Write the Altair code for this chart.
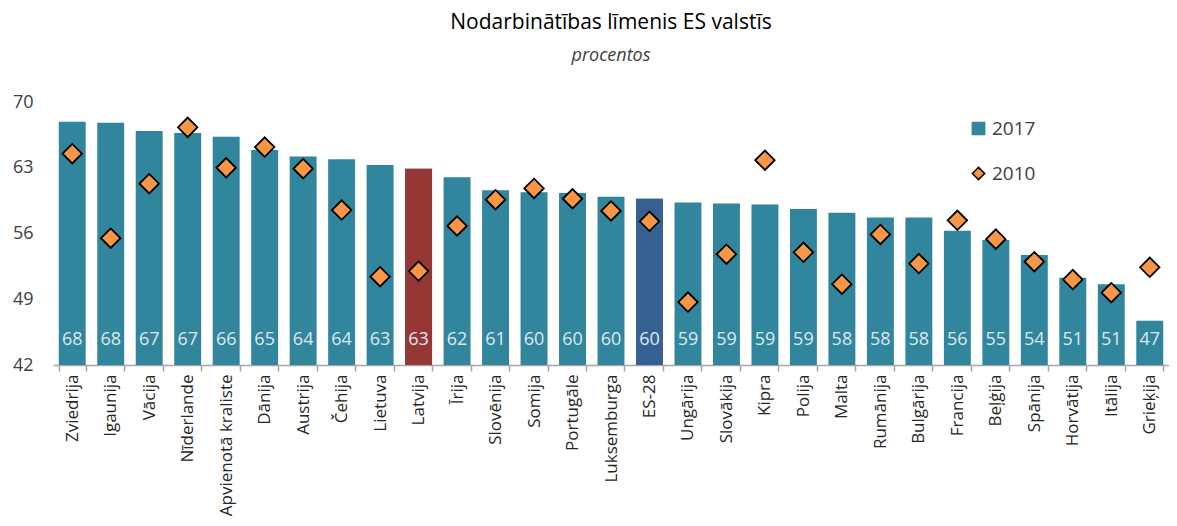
import altair as alt
import pandas as pd

countries = ["Zviedrija", "Igaunija", "Vācija", "Nīderlande", "Apvienotā kraliste",
             "Dānija", "Austrija", "Čehija", "Lietuva", "Latvija", "Īrija", "Slovēnija",
             "Somija", "Portugāle", "Luksemburga", "ES-28", "Ungārija", "Slovākija",
             "Kipra", "Polija", "Malta", "Rumānija", "Bulgārija", "Francija", "Beļģija",
             "Spānija", "Horvātija", "Itālija", "Grieķija"]
v2017 = [67.9, 67.8, 66.9, 66.7, 66.3, 64.9, 64.2, 63.9, 63.3, 62.9, 62.0, 60.6,
         60.4, 60.3, 59.9, 59.7, 59.3, 59.2, 59.1, 58.6, 58.2, 57.7, 57.7, 56.3,
         55.3, 53.7, 51.3, 50.6, 46.7]
v2010 = [64.5, 55.5, 61.3, 67.3, 63.0, 65.2, 62.9, 58.5, 51.4, 52.0, 56.8, 59.6,
         60.8, 59.7, 58.4, 57.3, 48.7, 53.8, 63.8, 54.0, 50.6, 55.9, 52.8, 57.4,
         55.4, 53.0, 51.1, 49.7, 52.4]
series = ["2017", "2010"]
y_ticks = [42, 49, 56, 63, 70]
highlighted = ["Latvija", "ES-28"]

TEAL = "#31859C"
ORANGE = "#F79646"
RED = "#953735"
BLUE = "#376092"
FONT = "Open Sans"

df = pd.DataFrame({"country": countries, "v2017": v2017, "v2010": v2010})
df["s17"] = series[0]
df["s10"] = series[1]

color_scale = alt.Scale(domain=series, range=[TEAL, ORANGE])
shape_scale = alt.Scale(domain=series, range=["square", "diamond"])
stroke_scale = alt.Scale(domain=series, range=[TEAL, "black"])

leg = alt.Legend(title=None, orient="none", legendX=916, legendY=17, direction="vertical",
                 symbolSize=150, labelFontSize=19, labelFont=FONT, labelColor="#404040",
                 rowPadding=25, labelOffset=4, padding=0, symbolStrokeWidth=1.5)

x = alt.X("country:N", sort=countries, title=None,
          scale=alt.Scale(paddingInner=0.3, paddingOuter=0.15),
          axis=alt.Axis(labelAngle=-90, labelFontSize=17, labelFont=FONT, labelColor="#262626",
                        domainColor="#A6A6A6", domainWidth=1.5, tickColor="#A6A6A6",
                        tickWidth=1.5, tickSize=6, tickBand="extent", labelPadding=3))

yscale = alt.Scale(domain=[42, 70], nice=False, zero=False)
yaxis = alt.Axis(values=y_ticks, title=None, domain=False, ticks=False, tickSize=0, grid=False,
                 labelPadding=20, labelFontSize=18, labelFont=FONT, labelColor="#404040")

base = alt.Chart(df)

bars = base.mark_bar().encode(
    x=x,
    y=alt.Y("v2017:Q", scale=yscale, axis=yaxis, title=None),
    y2=alt.datum(42),
    color=alt.Color("s17:N", scale=color_scale, legend=leg),
)

hl = base.transform_filter(
    alt.FieldOneOfPredicate(field="country", oneOf=highlighted)
).mark_bar().encode(
    x=x,
    y=alt.Y("v2017:Q", scale=yscale, axis=yaxis, title=None),
    y2=alt.datum(42),
    fill=alt.condition("datum.country == 'Latvija'", alt.value(RED), alt.value(BLUE)),
)

labels = base.mark_text(dy=-25, baseline="middle", fontSize=18, font=FONT,
                        color="#DCEAEF").encode(
    x=x,
    y=alt.YDatum(42, scale=yscale, axis=yaxis, title=None),
    text=alt.Text("v2017:Q", format=".0f"),
)

points = base.mark_point(filled=True, size=380, strokeWidth=1.8, opacity=1).encode(
    x=x,
    y=alt.Y("v2010:Q", scale=yscale, axis=yaxis, title=None),
    color=alt.Color("s10:N", scale=color_scale, legend=leg),
    shape=alt.Shape("s10:N", scale=shape_scale, legend=leg),
    stroke=alt.Stroke("s10:N", scale=stroke_scale, legend=leg),
)

chart = alt.layer(bars, hl, labels, points).properties(
    width=1116,
    height=263,
    padding={"left": 4, "top": 4, "right": 0, "bottom": 0},
    title=alt.TitleParams(
        text="Nodarbinātības līmenis ES valstīs",
        subtitle="procentos",
        fontSize=21, font=FONT, fontWeight="normal", color="black",
        subtitleFontSize=18, subtitleFont=FONT, subtitleFontStyle="italic",
        subtitleColor="#404040", subtitlePadding=14, offset=28, anchor="middle",
    ),
).configure_view(stroke=None)

chart.save("out.html", embed_options={"renderer": "svg", "actions": False})
